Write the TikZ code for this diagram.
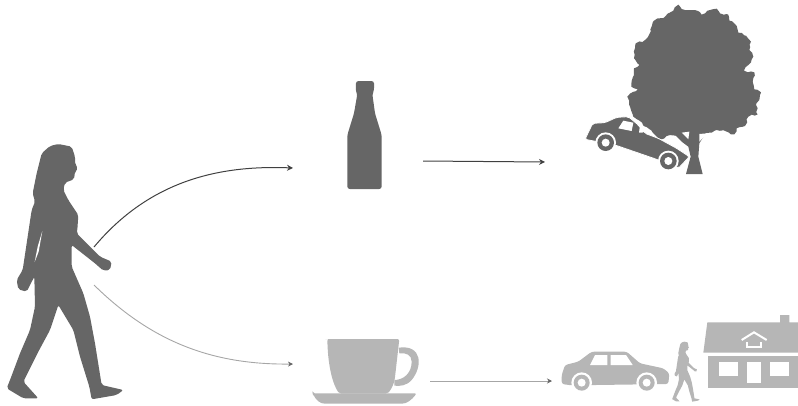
\documentclass[tikz,border=0pt]{standalone}
\usetikzlibrary{arrows.meta,decorations.pathmorphing}
\definecolor{figdark}{HTML}{666666}
\definecolor{figlight}{HTML}{B6B6B6}
\tikzset{
  darkfig/.style={fill=figdark,draw=none},
  lightfig/.style={fill=figlight,draw=none},
  gapfig/.style={fill=white,draw=none},
  foliage/.style={decorate,decoration={random steps,segment length=3.2pt,amplitude=1.1pt}},
  darkarrow/.style={draw=black!75,line width=1pt,-{Stealth[length=6pt,width=6pt]}},
  lightarrow/.style={draw=black!35,line width=.9pt,-{Stealth[length=5pt,width=5pt,color=black!60]}}
}
\newcommand{\womanoutline}{
  (175,42) -- (215,50) -- (225,80) -- (226,105) -- (235,115) -- (225,125) -- (222,148) -- (195,158) -- (190,180) -- (205,210) -- (235,255) -- (232,300) -- (230,310) -- (270,350) -- (300,380) -- (335,395) -- (330,420) -- (310,422) -- (285,400) -- (215,345) -- (215,410) -- (250,490) -- (270,560) -- (285,640) -- (305,765) -- (370,780) -- (350,795) -- (275,808) -- (268,770) -- (240,680) -- (220,600) -- (175,525) -- (150,600) -- (115,665) -- (70,755) -- (115,805) -- (70,805) -- (20,775) -- (30,750) -- (60,670) -- (90,600) -- (105,530) -- (103,440) -- (80,485) -- (55,478) -- (50,450) -- (68,420) -- (80,340) -- (95,240) -- (105,215) -- (98,190) -- (110,130) -- (125,70) -- (150,48) -- cycle
}
\pgfmathsetseed{7}
\begin{document}
\begin{tikzpicture}[x=1pt,y=-1pt]
\useasboundingbox (0,0) rectangle (798,405);
% woman
\begin{scope}[shift={(0,130)},scale=1/3]
  \fill[darkfig,rounded corners=2pt] \womanoutline;
  \fill[gapfig] (127,303) -- (113,350) -- (104,396) -- (116,365) -- cycle;
\end{scope}
% bottle
\begin{scope}[shift={(330,70)},scale=1/3]
  \fill[darkfig,rounded corners=2.5pt] (78,33) -- (132,33) -- (132,62) -- (127,72) -- (135,130) -- (155,195) -- (155,357) -- (52,357) -- (52,195) -- (72,130) -- (82,72) -- (77,62) -- cycle;
\end{scope}
% tree and crashed car
\begin{scope}[shift={(570,0)},scale=1/3]
  \fill[darkfig,foliage] (325,14) -- (335,27) -- (355,30) -- (375,30) -- (395,44) -- (420,30) -- (440,26) -- (450,40) -- (475,44) -- (478,62) -- (495,72) -- (505,98) -- (528,107) -- (543,125) -- (538,150) -- (550,170) -- (535,195) -- (522,212) -- (553,217) -- (548,245) -- (553,268) -- (573,277) -- (568,300) -- (558,315) -- (563,343) -- (535,350) -- (525,378) -- (500,385) -- (493,403) -- (470,395) -- (440,390) -- (425,398) -- (405,400) -- (330,410) -- (290,408) -- (275,418) -- (250,400) -- (190,350) -- (180,320) -- (172,290) -- (203,268) -- (184,260) -- (192,225) -- (192,205) -- (208,195) -- (192,175) -- (197,130) -- (225,120) -- (242,95) -- (252,62) -- (285,50) -- (310,32) -- cycle;
  \fill[darkfig] (310,400) -- (410,395) -- (388,430) -- (385,470) -- (398,522) -- (348,522) -- (362,470) -- (355,440) -- (335,425) -- cycle;
  \fill[gapfig] (335,398) -- (358,395) -- (355,418) -- cycle;
  \fill[gapfig] (388,402) -- (412,400) -- (388,425) -- cycle;
  \path[darkfig,draw=white,line width=.8pt,rounded corners=2pt] (45,418) -- (68,370) -- (105,368) -- (140,352) -- (175,350) -- (205,375) -- (225,400) -- (265,415) -- (320,445) -- (358,470) -- (325,505) -- (260,478) -- (135,435) -- cycle;
  \fill[gapfig] (145,385) -- (160,362) -- (190,368) -- (185,393) -- cycle;
  \fill[gapfig] (210,375) -- (222,378) -- (218,398) -- (207,398) -- cycle;
  \fill[gapfig] (107,428) circle (31);
  \fill[darkfig] (107,428) circle (25);
  \fill[gapfig] (107,428) circle (12);
  \fill[gapfig] (295,483) circle (31);
  \fill[darkfig] (295,483) circle (25);
  \fill[gapfig] (295,483) circle (12);
\end{scope}
% cup
\begin{scope}[shift={(300,325)},scale=1/3]
  \fill[lightfig] (296,68) .. controls (368,58) and (368,125) .. (335,165) .. controls (320,182) and (300,184) .. (283,182) -- (283,165) .. controls (310,165) and (335,145) .. (335,110) .. controls (335,90) and (318,82) .. (298,85) -- cycle;
  \fill[lightfig,rounded corners=2pt] (82,42) -- (298,42) -- (284,165) .. controls (278,185) and (270,198) .. (262,206) -- (118,206) .. controls (100,180) and (84,130) .. cycle;
  \fill[lightfig,rounded corners=2pt] (38,205) -- (350,205) .. controls (335,225) and (320,236) .. (300,236) -- (80,236) .. controls (60,236) and (48,225) .. cycle;
\end{scope}
% intact car, small woman, house
\begin{scope}[shift={(550,310)},scale=1/3]
  \fill[lightfig,rounded corners=2.5pt] (35,195) -- (45,165) -- (85,155) -- (125,125) -- (230,125) -- (270,160) -- (340,175) -- (358,190) -- (355,222) -- (65,226) -- (35,222) -- cycle;
  \fill[gapfig] (120,165) -- (135,135) -- (172,135) -- (172,165) -- cycle;
  \fill[gapfig] (182,135) -- (228,135) -- (248,165) -- (182,165) -- cycle;
  \fill[gapfig] (95,218) circle (31);
  \fill[lightfig] (95,218) circle (24);
  \fill[gapfig] (95,218) circle (12);
  \fill[gapfig] (290,218) circle (31);
  \fill[lightfig] (290,218) circle (24);
  \fill[gapfig] (290,218) circle (12);
  \fill[gapfig] (60,243) rectangle (330,262);
  \fill[lightfig] (460,128) -- (472,37) -- (690,37) -- (690,15) -- (718,15) -- (718,37) -- (744,37) -- (744,128) -- cycle;
  \fill[lightfig] (473,138) rectangle (744,235);
  \fill[gapfig] (507,155) rectangle (563,197);
  \fill[gapfig] (591,155) rectangle (632,218);
  \fill[gapfig] (661,155) rectangle (717,197);
  \draw[white,line width=2pt] (575,90) -- (612,67) -- (650,90);
  \draw[white,line width=1.8pt] (590,96) -- (590,110) -- (634,110) -- (634,96);
\end{scope}
\begin{scope}[shift={(670.6,338.4)},scale=.0783]
  \fill[lightfig] \womanoutline;
\end{scope}
% connectors
\coordinate (womanUp) at (94,247);
\coordinate (womanDown) at (94,285);
\coordinate (bottleIn) at (293,168);
\coordinate (cupIn) at (293,364);
\coordinate (bottleOut) at (423,161);
\coordinate (treeIn) at (545,162);
\coordinate (cupOut) at (430,381);
\coordinate (carIn) at (552,381);
\draw[darkarrow] (womanUp) .. controls (150,180) and (220,165) .. (bottleIn);
\draw[lightarrow] (womanDown) .. controls (150,340) and (210,365) .. (cupIn);
\draw[darkarrow] (bottleOut) -- (treeIn);
\draw[lightarrow] (cupOut) -- (carIn);
\end{tikzpicture}
\end{document}
